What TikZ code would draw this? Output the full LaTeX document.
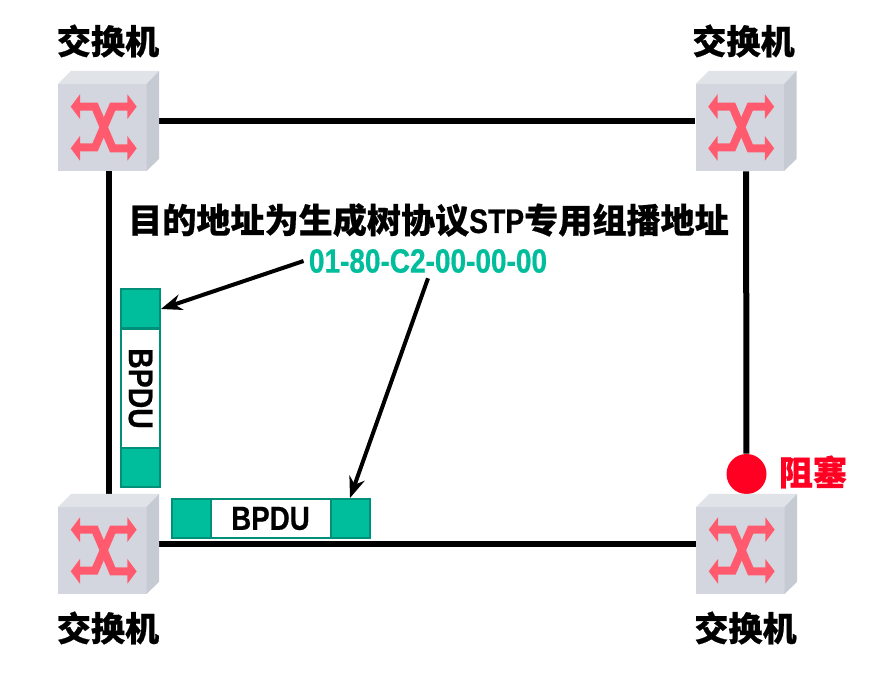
\documentclass[tikz,border=0pt]{standalone}
\usepackage{fontspec}
\usepackage{tikz}
\newfontfamily\cjkfont[BoldFeatures={FakeBold=0.6}]{Noto Sans CJK SC}
\newfontfamily\narrowfont[FakeStretch=0.83,BoldFeatures={FakeBold=0.5}]{Liberation Sans}
\definecolor{framegreen}{HTML}{00BD9B}
\definecolor{frameedge}{HTML}{008F78}
\definecolor{stopred}{HTML}{FF0022}
\definecolor{swfront}{HTML}{D3D6DE}
\definecolor{swtop}{HTML}{E0E3E8}
\definecolor{swside}{HTML}{C6CAD3}
\definecolor{swarrow}{HTML}{FF5A6E}
\tikzset{
	swnode/.style={minimum width=2.02cm,minimum height=2cm,inner sep=0pt},
	swtext/.style={font=\cjkfont\bfseries\fontsize{19.4}{20}\selectfont},
	link/.style={line width=0.12cm},
	pointer/.style={line width=0.08cm,-{Stealth[length=0.42cm,width=0.32cm]}},
	cell/.style={draw=frameedge,line width=0.04cm,fill=framegreen,minimum width=0.78cm,minimum height=0.78cm,inner sep=0pt},
	paycell/.style={draw=frameedge,line width=0.04cm,fill=white,inner sep=0pt,font=\narrowfont\bfseries\fontsize{19}{20}\selectfont},
	switchbox/.pic={
		\fill[swfront] (-1.01,0.74) rectangle (0.76,-1);
		\fill[swtop] (-1.01,0.74) -- (-0.75,1) -- (1.01,1) -- (0.76,0.74) -- cycle;
		\fill[swside] (0.76,0.74) -- (1.01,1) -- (1.01,-0.76) -- (0.76,-1) -- cycle;
		\draw[swarrow,line width=0.16cm] (-0.6,0.287) -- (-0.27,0.287) -- (0.084,-0.547) -- (0.4,-0.547);
		\draw[swarrow,line width=0.16cm] (-0.6,-0.53) -- (-0.27,-0.53) -- (0.084,0.287) -- (0.4,0.287);
		\foreach \y in {0.287,-0.547}{
			\fill[swarrow] (-0.756,\y) -- (-0.57,\y+0.247) -- (-0.57,\y-0.247) -- cycle;
			\fill[swarrow] (0.563,\y) -- (0.377,\y+0.247) -- (0.377,\y-0.247) -- cycle;
		}
	}
}
\usetikzlibrary{arrows.meta}
\begin{document}
\begin{tikzpicture}
	\useasboundingbox (0,0) rectangle (17.92,13.82);
	% links first, the boxes sit on top
	\node[swnode] (swTL) at (2.17,11.4) {};
	\node[swnode] (swTR) at (14.92,11.4) {};
	\node[swnode] (swBL) at (2.17,2.94) {};
	\node[swnode] (swBR) at (14.93,2.94) {};
	\node[circle,fill=stopred,minimum size=0.8cm,inner sep=0pt] (stop) at (14.93,4.34) {};
	\draw[link] (swTL) -- (swTR);
	\draw[link] (swTL) -- (swBL);
	\draw[link] (swBL) -- (swBR);
	\draw[link] (swTR) -- (stop);
	\pic at (swTL) {switchbox};
	\pic at (swTR) {switchbox};
	\pic at (swBL) {switchbox};
	\pic at (swBR) {switchbox};
	\node[swtext] (labTL) at (2.16,13) {交换机};
	\node[swtext] (labTR) at (14.87,13) {交换机};
	\node[swtext] (labBL) at (2.16,1.26) {交换机};
	\node[swtext] (labBR) at (14.91,1.26) {交换机};
	\node[swtext,text=stopred] (labStop) at (16.26,4.38) {阻塞};
	\node[swtext] (title) at (8.57,9.42) {目的地址为生成树协议{\narrowfont\bfseries STP}专用组播地址};
	\node[text=framegreen,font=\narrowfont\bfseries\fontsize{19.2}{20}\selectfont,inner sep=0.1cm] (mac) at (8.56,8.6) {01-80-C2-00-00-00};
	% vertical frame
	\node[cell] (vTop) at (2.81,7.64) {};
	\node[paycell,minimum width=0.78cm,minimum height=2.38cm] (vPay) at (2.81,6.05) {};
	\node[rotate=-90,font=\narrowfont\bfseries\fontsize{19.5}{20}\selectfont] (vText) at (vPay) {BPDU};
	\node[cell] (vEnd) at (2.81,4.46) {};
	% horizontal frame
	\node[cell] (hEnd) at (3.82,3.45) {};
	\node[paycell,minimum width=2.4cm,minimum height=0.78cm] (hPay) at (5.41,3.45) {BPDU};
	\node[cell] (hTop) at (7,3.45) {};
	\draw[pointer] (mac.west) -- (vTop.east);
	\draw[pointer] (mac.south) -- (hTop.north);
\end{tikzpicture}
\end{document}
